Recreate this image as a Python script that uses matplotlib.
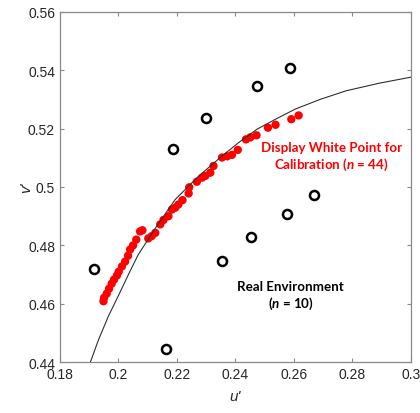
import matplotlib.pyplot as plt

plt.rcParams['font.family'] = ['Liberation Sans', 'DejaVu Sans']
plt.rcParams['mathtext.fontset'] = 'custom'
plt.rcParams['mathtext.it'] = 'Lato:italic:bold'
plt.rcParams['mathtext.rm'] = 'Lato:bold'

# display white points used for calibration (u', v')
cal_u = [0.2616, 0.2591, 0.2537, 0.2511, 0.2472, 0.2451, 0.2436, 0.2408, 0.2388,
         0.2372, 0.2354, 0.2325, 0.2314, 0.2297, 0.2286, 0.2268, 0.2242, 0.2240,
         0.2219, 0.2205, 0.2194, 0.2183, 0.2171, 0.2154, 0.2143, 0.2126, 0.2114,
         0.2102, 0.2082, 0.2074, 0.2061, 0.2050, 0.2040, 0.2033, 0.2023, 0.2012,
         0.2001, 0.1995, 0.1985, 0.1977, 0.1968, 0.1960, 0.1951, 0.1949]
cal_v = [0.5245, 0.5232, 0.5213, 0.5203, 0.5177, 0.5170, 0.5163, 0.5127, 0.5110,
         0.5105, 0.5101, 0.5072, 0.5049, 0.5038, 0.5032, 0.5018, 0.4999, 0.4978,
         0.4955, 0.4940, 0.4929, 0.4923, 0.4900, 0.4887, 0.4872, 0.4843, 0.4832,
         0.4824, 0.4852, 0.4848, 0.4820, 0.4800, 0.4786, 0.4765, 0.4745, 0.4728,
         0.4710, 0.4697, 0.4683, 0.4669, 0.4652, 0.4635, 0.4621, 0.4609]

# real environment measurements
env_u = [0.1918, 0.2162, 0.2186, 0.2300, 0.2354, 0.2452, 0.2474, 0.2577, 0.2588, 0.2670]
env_v = [0.4721, 0.4447, 0.5131, 0.5235, 0.4748, 0.4830, 0.5346, 0.4908, 0.5408, 0.4972]

# reference curve
curve_u = [0.1895, 0.1903, 0.1932, 0.1965, 0.2000, 0.2035, 0.2068, 0.2131, 0.2194,
           0.2274, 0.2354, 0.2411, 0.2474, 0.2537, 0.2605, 0.2690, 0.2777, 0.2890,
           0.3000]
curve_v = [0.4380, 0.4397, 0.4477, 0.4556, 0.4628, 0.4702, 0.4769, 0.4866, 0.4957,
           0.5037, 0.5106, 0.5152, 0.5198, 0.5232, 0.5267, 0.5300, 0.5329, 0.5355,
           0.5376]

xticks = [0.18, 0.20, 0.22, 0.24, 0.26, 0.28, 0.30]
xlabels = ['0.18', '0.2', '0.22', '0.24', '0.26', '0.28', '0.3']
yticks = [0.44, 0.46, 0.48, 0.50, 0.52, 0.54, 0.56]
ylabels = ['0.44', '0.46', '0.48', '0.5', '0.52', '0.54', '0.56']

fig = plt.figure(figsize=(4.2, 4.14), dpi=100)
ax = fig.add_axes([0.1426, 0.1225, 0.836, 0.8468])

ax.scatter(cal_u, cal_v, s=36, color='#ff0000', edgecolors='none', zorder=2)
ax.plot(env_u, env_v, 'o', ms=6.5, mfc='white', mec='black', mew=1.8, zorder=3)
ax.plot(curve_u, curve_v, color='#303030', lw=0.8, zorder=4)

ax.set_xlim(0.18, 0.30)
ax.set_ylim(0.44, 0.56)
ax.set_xticks(xticks)
ax.set_xticklabels(xlabels)
ax.set_yticks(yticks)
ax.set_yticklabels(ylabels)
ax.tick_params(direction='in', top=True, right=True, length=3, width=0.8,
               color='#8a8a8a', labelsize=10, labelcolor='#262626')
for sp in ax.spines.values():
    sp.set_color('#8a8a8a')
    sp.set_linewidth(0.9)

ax.set_xlabel("u'", fontstyle='italic', fontsize=11, color='#262626')
ax.set_ylabel("v'", fontstyle='italic', fontsize=11, color='#262626', rotation=90)
ax.xaxis.set_label_coords(0.5, -0.075)
ax.yaxis.set_label_coords(-0.075, 0.5)

ax.text(0.2728, 0.5104, 'Display White Point for\nCalibration ($n$ = 44)',
        color='#ff0000', fontsize=9.6, family='Lato', fontweight='bold',
        ha='center', va='center', linespacing=1.25)
ax.text(0.2588, 0.4628, 'Real Environment\n($n$ = 10)',
        color='black', fontsize=9.6, family='Lato', fontweight='bold',
        ha='center', va='center', linespacing=1.25)

fig.savefig('out.png', dpi=100)
